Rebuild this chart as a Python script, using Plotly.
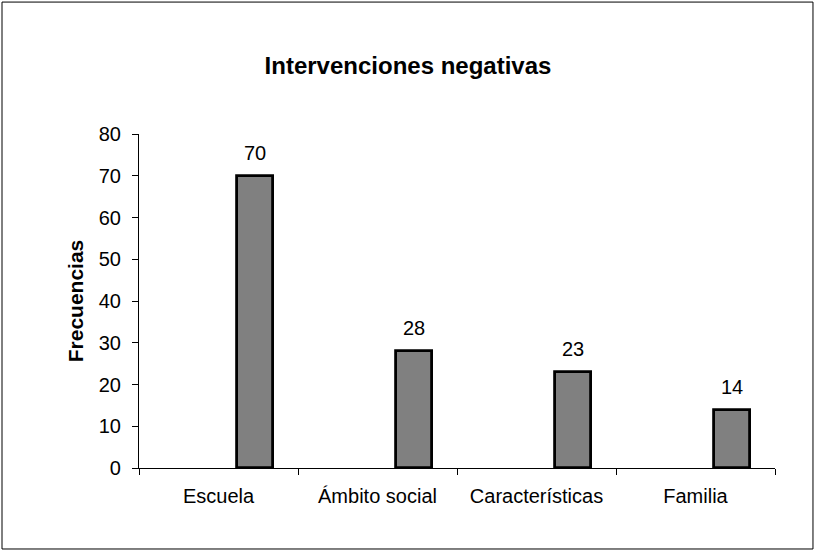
import plotly.graph_objects as go

categories = ["Escuela", "Ámbito social", "Características", "Familia"]
values = [70, 28, 23, 14]
y_ticks = [0, 10, 20, 30, 40, 50, 60, 70, 80]

FONT = "Arial, Liberation Sans, sans-serif"

fig = go.Figure()
fig.add_trace(go.Bar(
    x=categories,
    y=values,
    width=0.226,
    offset=0.116,
    marker=dict(color="#808080", line=dict(color="#000000", width=2.8)),
    showlegend=False,
    hoverinfo="skip",
))

annotations = []
for c, v in zip(categories, values):
    annotations.append(dict(
        x=c, y=v, xref="x", yref="y", text=str(v), showarrow=False,
        xshift=36.5, yanchor="bottom", yshift=10,
        font=dict(family=FONT, size=20, color="#000000"),
    ))

fig.update_layout(
    width=816, height=552,
    paper_bgcolor="#ffffff", plot_bgcolor="#ffffff",
    margin=dict(l=139, r=41, t=134, b=84),
    title=dict(text="<b>Intervenciones negativas</b>", x=0.5, xanchor="center",
               y=1 - 66 / 552, yanchor="middle",
               font=dict(family=FONT, size=24, color="#000000")),
    font=dict(family=FONT, size=20, color="#000000"),
    annotations=annotations,
    shapes=[dict(type="rect", xref="paper", yref="paper",
                 x0=-0.2154, x1=1.0597, y0=-0.2425, y1=1.395,
                 line=dict(color="#000000", width=1))],
    bargap=0,
)

fig.update_xaxes(
    type="category", showgrid=False, showline=True, linecolor="#000000", linewidth=1.2,
    ticks="outside", tickson="boundaries", ticklen=6, tickcolor="#000000", tickwidth=1.2,
    tickfont=dict(family=FONT, size=20, color="#000000"),
    ticklabelstandoff=10,
    range=[-0.5, 3.5],
)
fig.update_yaxes(
    range=[0, 80], tickvals=y_ticks, showgrid=False, zeroline=False,
    showline=True, linecolor="#000000", linewidth=1.2,
    ticks="outside", ticklen=6, tickcolor="#000000", tickwidth=1.2,
    tickfont=dict(family=FONT, size=20, color="#000000"),
    ticklabelstandoff=7,
    title=dict(text="<b>Frecuencias</b>", standoff=9,
               font=dict(family=FONT, size=21, color="#000000")),
)

fig.write_html(
    "out.html",
    config={"displayModeBar": False},
    post_script="document.body.style.margin='0';document.body.style.overflow='hidden';",
)
